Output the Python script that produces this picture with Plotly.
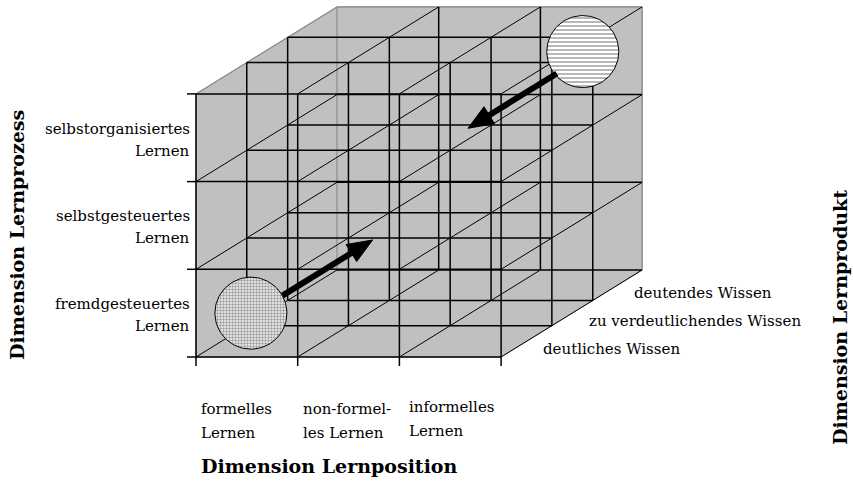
import math
import plotly.graph_objects as go

# ---------------- data ----------------
POSITION_LABELS = [("formelles", "Lernen"), ("non-formel-", "les Lernen"), ("informelles", "Lernen")]
PROCESS_LABELS = [("fremdgesteuertes", "Lernen"), ("selbstgesteuertes", "Lernen"), ("selbstorganisiertes", "Lernen")]
PRODUCT_LABELS = ["deutliches Wissen", "zu verdeutlichendes Wissen", "deutendes Wissen"]
DEPTH_LAYERS = [0.0, 0.36, 0.65, 1.0]   # relative depth of the product layers
AXIS_TITLES = {"x": "Dimension Lernposition", "y": "Dimension Lernprozess", "z": "Dimension Lernprodukt"}
# circles (u, v, d) in cube units and arrows (start -> tip) in cube units
CIRCLES = [(0.54, 0.5, 0.0, "."), (2.5, 2.55, 0.94, "-")]
ARROWS = [((0.85, 0.7, 0.0), (0.85, 0.7, 0.64)), ((2.3, 2.34, 0.9), (2.3, 2.34, 0.27))]

# ---------------- geometry (style) ----------------
W, H = 853, 485
X0, Y0 = 196, 357
UX, UY = 101.7, 87.7
DX, DY = 141, -87
NU, NV = len(POSITION_LABELS), len(PROCESS_LABELS)
SERIF = "DejaVu Serif"


def P(u, v, d):
    return X0 + UX * u + DX * d, Y0 - UY * v + DY * d


fig = go.Figure()

# gray body of the cube
poly = [P(0, 0, 0), P(0, NV, 0), P(0, NV, 1), P(NU, NV, 1), P(NU, 0, 1), P(NU, 0, 0), P(0, 0, 0)]
fig.add_trace(go.Scatter(x=[p[0] for p in poly], y=[p[1] for p in poly], mode="lines",
                         fill="toself", fillcolor="#C0C0C0", line=dict(color="#9a9a9a", width=1),
                         hoverinfo="skip", showlegend=False))

gx, gy = [], []      # gray lines
bx, by = [], []      # black grid lines
dx_, dy_ = [], []    # black depth lines


def seg(lx, ly, a, b):
    lx += [a[0], b[0], None]
    ly += [a[1], b[1], None]


for k, d in enumerate(DEPTH_LAYERS):
    for i in range(NU + 1):
        a, b = P(i, 0, d), P(i, NV, d)
        if d == 1.0 and i in (0, NU):
            seg(gx, gy, a, b)
        else:
            seg(bx, by, a, b)
    for j in range(NV + 1):
        a, b = P(0, j, d), P(NU, j, d)
        if d == 1.0 and j == NV:
            seg(gx, gy, a, b)
        else:
            seg(bx, by, a, b)
for i in range(NU + 1):
    for j in range(NV + 1):
        a, b = P(i, j, 0), P(i, j, 1)
        if i == 0 and j == NV:
            seg(gx, gy, a, b)
        else:
            seg(dx_, dy_, a, b)

# ticks
tx, ty = [], []
for j in range(NV + 1):
    p = P(0, j, 0)
    seg(tx, ty, (p[0] - 9, p[1]), p)
for i in range(NU + 1):
    p = P(i, 0, 0)
    seg(tx, ty, p, (p[0], p[1] + 9))

fig.add_trace(go.Scatter(x=gx, y=gy, mode="lines", line=dict(color="#8c8c8c", width=1.2),
                         hoverinfo="skip", showlegend=False))
fig.add_trace(go.Scatter(x=dx_, y=dy_, mode="lines", line=dict(color="black", width=1),
                         hoverinfo="skip", showlegend=False))
fig.add_trace(go.Scatter(x=bx, y=by, mode="lines", line=dict(color="black", width=1.5),
                         hoverinfo="skip", showlegend=False))
fig.add_trace(go.Scatter(x=tx, y=ty, mode="lines", line=dict(color="black", width=1.5),
                         hoverinfo="skip", showlegend=False))

# circles
R = 36
for (u, v, d, pat) in CIRCLES:
    cx, cy = P(u, v, d)
    xs = [cx + R * math.cos(2 * math.pi * t / 120) for t in range(121)]
    ys = [cy + R * math.sin(2 * math.pi * t / 120) for t in range(121)]
    if pat == ".":
        fp = dict(shape=".", size=3, solidity=0.5, fgcolor="#444444", bgcolor="#f4f4f4")
    else:
        fp = dict(shape="-", size=4, solidity=0.35, fgcolor="#333333", bgcolor="white")
    fig.add_trace(go.Scatter(x=xs, y=ys, mode="lines", fill="toself", fillpattern=fp,
                             fillcolor="white", line=dict(color="black", width=1),
                             hoverinfo="skip", showlegend=False))

# arrows
HL, HW = 25, 20
for s, t in ARROWS:
    sx, sy = P(*s)
    ex, ey = P(*t)
    L = math.hypot(ex - sx, ey - sy)
    ux, uy = (ex - sx) / L, (ey - sy) / L
    nx, ny = -uy, ux
    bxp, byp = ex - HL * ux, ey - HL * uy
    fig.add_trace(go.Scatter(x=[sx, bxp + 2 * ux], y=[sy, byp + 2 * uy], mode="lines",
                             line=dict(color="black", width=6), hoverinfo="skip", showlegend=False))
    fig.add_trace(go.Scatter(x=[ex, bxp + HW / 2 * nx, bxp - HW / 2 * nx, ex],
                             y=[ey, byp + HW / 2 * ny, byp - HW / 2 * ny, ey],
                             mode="lines", fill="toself", fillcolor="black",
                             line=dict(color="black", width=1), hoverinfo="skip", showlegend=False))

ann = []
FS = 15
# process labels (left)
for j, (l1, l2) in enumerate(PROCESS_LABELS):
    _, cy = P(0, j + 0.5, 0)
    for txt, off in ((l1, -9), (l2, 13)):
        ann.append(dict(x=X0 - 4, y=cy + off, text=txt, xanchor="right", yanchor="middle",
                        showarrow=False, font=dict(family=SERIF, size=FS, color="black")))
# position labels (bottom)
for i, (l1, l2) in enumerate(POSITION_LABELS):
    px, _ = P(i, 0, 0)
    for txt, yy in ((l1, 409), (l2, 433)):
        ann.append(dict(x=px + 3 + (5 if i == 2 else 0), y=yy - (2 if i == 2 else 0), text=txt,
                        xanchor="left", yanchor="middle",
                        showarrow=False, font=dict(family=SERIF, size=FS, color="black")))
# product labels (right)
for k, txt in enumerate(PRODUCT_LABELS):
    dm = (DEPTH_LAYERS[k] + DEPTH_LAYERS[k + 1]) / 2
    px, py = P(NU, 0, dm)
    ann.append(dict(x=px + 15, y=py + 8, text=txt, xanchor="left", yanchor="middle",
                    showarrow=False, font=dict(family=SERIF, size=FS, color="black")))
# axis titles
TF = dict(family=SERIF, size=19, color="black")
ann.append(dict(x=199, y=466, text="<b>%s</b>" % AXIS_TITLES["x"], xanchor="left", yanchor="middle",
                showarrow=False, font=TF))
ann.append(dict(x=17, y=235, text="<b>%s</b>" % AXIS_TITLES["y"], textangle=-90, xanchor="center",
                yanchor="middle", showarrow=False, font=TF))
ann.append(dict(x=840, y=318, text="<b>%s</b>" % AXIS_TITLES["z"], textangle=-90, xanchor="center",
                yanchor="middle", showarrow=False, font=TF))

fig.update_layout(
    width=W, height=H, margin=dict(l=0, r=0, t=0, b=0),
    paper_bgcolor="white", plot_bgcolor="white",
    xaxis=dict(range=[0, W], visible=False, fixedrange=True),
    yaxis=dict(range=[H, 0], visible=False, fixedrange=True),
    annotations=ann, showlegend=False, hovermode=False,
)
fig.write_html("out.html", config={"displayModeBar": False},
               post_script="document.body.style.margin='0';document.body.style.overflow='hidden';")
